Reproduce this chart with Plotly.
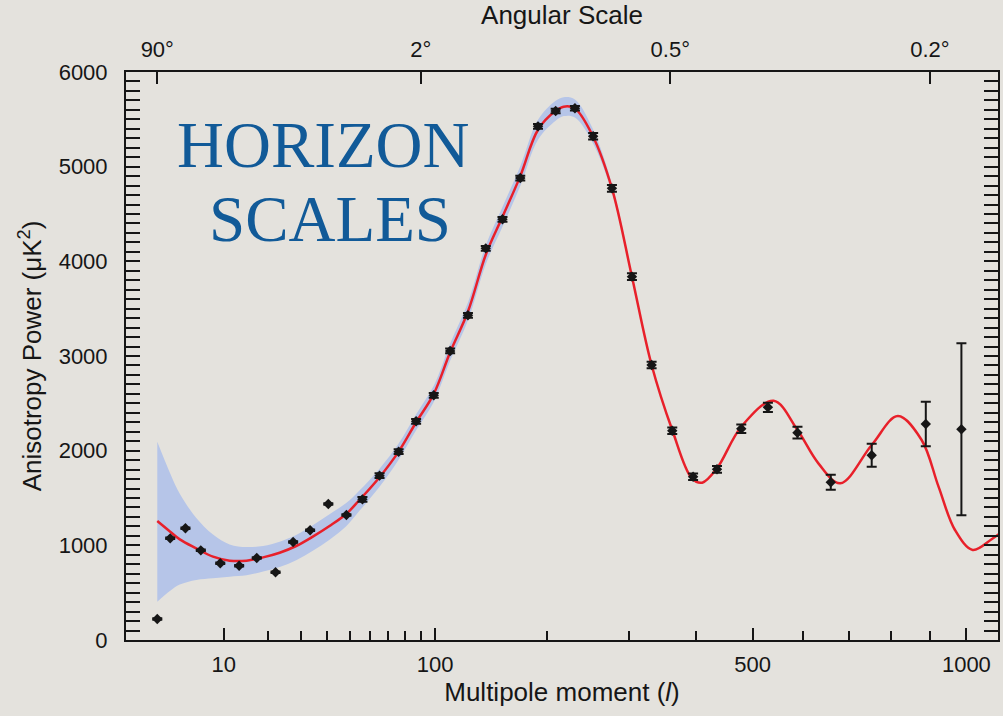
import numpy as np
import plotly.graph_objects as go

# ---------------- data ----------------
# binned measurements: multipole l, power (uK^2), 1-sigma error
ell = [2, 3, 4.5, 6.4, 9.4, 13, 17, 22, 27.4, 33.3, 40.4, 48.3, 56, 65, 76, 87, 99,
       111, 125, 140, 155, 172, 190, 209, 231, 253, 277, 304, 332, 363, 396, 436,
       479, 529, 588, 659, 753, 889, 986]
power = [222, 1074, 1180, 947, 810, 785, 866, 715, 1035, 1159, 1437, 1320, 1486,
         1736, 1989, 2310, 2585, 3053, 3430, 4137, 4444, 4880, 5426, 5588, 5617,
         5321, 4771, 3838, 2905, 2211, 1725, 1803, 2232, 2458, 2190, 1666, 1951,
         2282, 2226]
power_err = [8] * 12 + [25] * 13 + [35] * 7 + [45, 49, 62, 79, 121, 236, 908]

# best-fit model curve
curve_l = [2, 3, 3.9, 5.8, 8.2, 11.1, 14.6, 18.6, 23.2, 28.4, 34.3, 40.9, 48.2, 54.5,
           65, 76, 87, 99, 111, 125, 140, 155, 172, 190, 209, 218, 231, 252, 277, 304,
           332, 363, 394, 411, 436, 479, 540, 588, 632, 680, 753, 817, 878, 923, 968,
           1018, 1073, 1102]
curve_v = [1257, 1144, 1063, 968, 880, 838, 838, 873, 922, 993, 1092, 1204, 1331, 1479,
           1720, 1990, 2300, 2600, 3040, 3470, 4070, 4470, 4900, 5390, 5590, 5634, 5615,
           5335, 4771, 3838, 2905, 2218, 1708, 1662, 1814, 2253, 2528, 2218, 1866, 1655,
           2060, 2366, 2113, 1620, 1162, 951, 1064, 1138]

# cosmic-variance band
band_l = [2, 3, 3.9, 5.8, 8.2, 11.1, 14.6, 18.6, 23.2, 28.4, 34.3, 40.9, 48.2, 54.5,
          65, 76, 87, 99, 111, 125, 140, 155, 172, 190, 209, 218, 231, 252, 277, 304]
band_hi = [2095, 1760, 1545, 1290, 1115, 1010, 982, 993, 1039, 1109, 1212, 1329, 1446,
           1579, 1810, 2075, 2385, 2685, 3130, 3565, 4170, 4575, 5005, 5495, 5695, 5734,
           5710, 5410, 4815, 3850]
band_lo = [405, 520, 585, 634, 651, 669, 683, 723, 772, 843, 942, 1059, 1201, 1364,
           1620, 1905, 2215, 2515, 2950, 3375, 3970, 4365, 4795, 5285, 5485, 5534, 5520,
           5260, 4730, 3826]

# axis ticks
x_major = [10, 100, 500, 1000]
x_minor = [20, 30, 40, 50, 60, 70, 80, 90, 200, 300, 400, 600, 700, 800, 900]
top_l = [2, 90, 360, 900]
top_text = ["90°", "2°", "0.5°", "0.2°"]
l_range = [0.5, 1092]

# ---------------- scale: the x axis is linear in l**0.4 ----------------
POW = 0.4


def sc(v):
    return (np.asarray(v, dtype=float) ** POW).tolist()


BG = "#e4e2dd"
INK = "#161616"
FONT = "Liberation Sans, Arial, Helvetica, sans-serif"

fig = go.Figure()

fig.add_trace(go.Scatter(x=sc(band_l), y=band_lo, mode="lines",
                         line=dict(width=0, shape="spline", color="rgba(0,0,0,0)"),
                         hoverinfo="skip", showlegend=False))
fig.add_trace(go.Scatter(x=sc(band_l), y=band_hi, mode="lines", fill="tonexty",
                         fillcolor="rgb(182,197,232)",
                         line=dict(width=0, shape="spline", color="rgba(0,0,0,0)"),
                         hoverinfo="skip", showlegend=False))
fig.add_trace(go.Scatter(x=sc(curve_l), y=curve_v, mode="lines",
                         line=dict(color="#e8202a", width=2.5, shape="spline"),
                         hoverinfo="skip", showlegend=False))
fig.add_trace(go.Scatter(x=sc(ell), y=power, mode="markers",
                         marker=dict(symbol="diamond", size=8, color=INK),
                         error_y=dict(type="data", array=power_err, color=INK,
                                      thickness=2, width=5),
                         showlegend=False))
# registers the top (angular scale) axis
fig.add_trace(go.Scatter(x=sc(top_l), y=[None] * len(top_l), xaxis="x2",
                         mode="markers", hoverinfo="skip", showlegend=False))

axis_common = dict(showline=True, linewidth=2, linecolor=INK, showgrid=False,
                   zeroline=False, ticks="inside", tickwidth=2, tickcolor=INK,
                   tickfont=dict(family=FONT, size=22, color=INK))

fig.update_layout(
    width=1003, height=716,
    margin=dict(l=126, r=3, t=72, b=76),
    paper_bgcolor=BG, plot_bgcolor=BG,
    font=dict(family=FONT, color=INK),
    xaxis=dict(axis_common, range=sc(l_range), tickmode="array",
               tickvals=sc(x_major), ticktext=[str(v) for v in x_major],
               ticklen=12, ticklabelstandoff=4,
               minor=dict(tickvals=sc(x_minor), ticks="inside", ticklen=9,
                          tickwidth=2, tickcolor=INK),
               title=dict(text="Multipole moment (<i>l</i>)",
                          font=dict(family=FONT, size=26, color=INK), standoff=6)),
    xaxis2=dict(axis_common, overlaying="x", side="top", range=sc(l_range),
                tickmode="array", tickvals=sc(top_l), ticktext=top_text,
                ticklen=12, ticklabelstandoff=4,
                title=dict(text="Angular Scale",
                           font=dict(family=FONT, size=26, color=INK), standoff=6)),
    yaxis=dict(axis_common, range=[0, 6000], tickmode="linear", tick0=0, dtick=1000,
               ticklen=14, mirror="allticks", ticklabelstandoff=12,
               minor=dict(dtick=100, tick0=0, ticks="inside", ticklen=6,
                          tickwidth=2, tickcolor=INK),
               title=dict(text="Anisotropy Power (μK<sup>2</sup>)",
                          font=dict(family=FONT, size=26, color=INK), standoff=10)),
)

SERIF = "Liberation Serif, Times New Roman, serif"
fig.add_annotation(text="HORIZON", xref="paper", yref="paper", x=0.2254, y=0.8715,
                   xanchor="center", yanchor="middle", showarrow=False,
                   font=dict(family=SERIF, size=65, color="#115a98"))
fig.add_annotation(text="SCALES", xref="paper", yref="paper", x=0.2334, y=0.742,
                   xanchor="center", yanchor="middle", showarrow=False,
                   font=dict(family=SERIF, size=65, color="#115a98"))

fig.write_html("out.html")
